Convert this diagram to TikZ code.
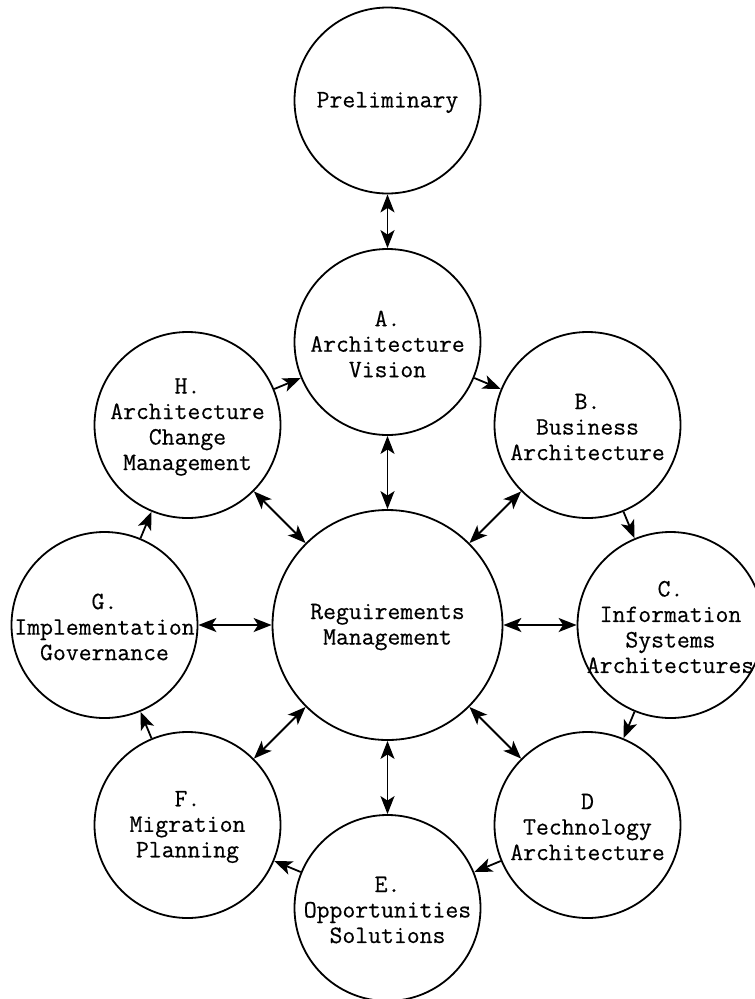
\documentclass[tikz,border=0pt]{standalone}
\usepackage{fontspec}
\setmonofont{Latin Modern Mono}[FakeBold=0.4]
\usetikzlibrary{arrows.meta}
\begin{document}
\begin{tikzpicture}[x=1pt, y=-1pt,
  phase/.style={circle, draw, line width=1.8pt, minimum size=186pt, inner sep=0pt},
  core/.style={circle, draw, line width=1.8pt, minimum size=230pt, inner sep=0pt},
  txt/.style={align=center, font=\ttfamily\fontsize{25}{25.5}\selectfont, inner sep=0pt, yshift=-2pt},
  flow/.style={line width=1.8pt, -{Stealth[length=18pt, width=14pt, inset=4.5pt]}},
  both/.style={line width=1.8pt, {Stealth[length=18pt, width=14pt, inset=4.5pt]}-{Stealth[length=18pt, width=14pt, inset=4.5pt]}}]
  \useasboundingbox (0,0) rectangle (755,999);

  % phase circles of the cycle
  \node[phase, label={[txt]center:Preliminary}] (P) at (387.5,100.5) {};
  \node[phase, label={[txt]center:A.\\Architecture\\Vision}] (A) at (387.5,342) {};
  \node[phase, label={[txt]center:B.\\Business\\Architecture}] (B) at (587.5,425) {};
  \node[phase, label={[txt]center:C.\\Information\\Systems\\Architectures}] (C) at (670.5,625) {};
  \node[phase, label={[txt]center:D\\Technology\\Architecture}] (D) at (587.5,825) {};
  \node[phase, label={[txt]center:E.\\Opportunities\\Solutions}] (E) at (387.5,908) {};
  \node[phase, label={[txt]center:F.\\Migration\\Planning}] (F) at (187.5,825) {};
  \node[phase, label={[txt]center:G.\\Implementation\\Governance}] (G) at (104.5,625) {};
  \node[phase, label={[txt]center:H.\\Architecture\\Change\\Management}] (H) at (187.5,425) {};

  % central circle
  \node[core, label={[txt]center:Reguirements\\Management}] (R) at (387.5,625) {};

  % cycle A to H
  \draw[flow] (A) -- (B);
  \draw[flow] (B) -- (C);
  \draw[flow] (C) -- (D);
  \draw[flow] (D) -- (E);
  \draw[flow] (E) -- (F);
  \draw[flow] (F) -- (G);
  \draw[flow] (G) -- (H);
  \draw[flow] (H) -- (A);

  % links to the centre and to the preliminary phase
  \draw[both] (P) -- (A);
  \foreach \n in {A,B,C,D,E,F,G,H}
    \draw[both] (R) -- (\n);
\end{tikzpicture}
\end{document}
